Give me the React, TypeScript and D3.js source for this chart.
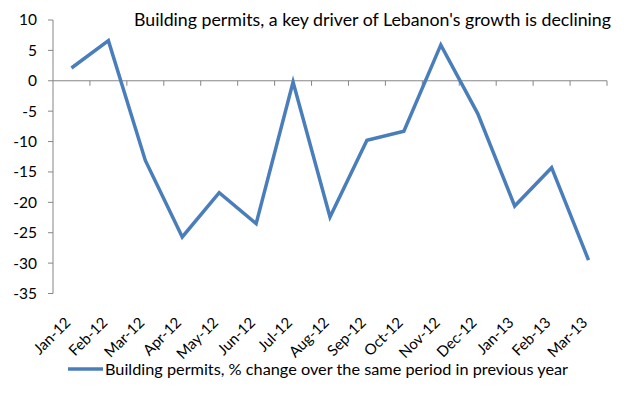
import React from 'react';
import * as d3 from 'd3';

const months = ['Jan-12', 'Feb-12', 'Mar-12', 'Apr-12', 'May-12', 'Jun-12', 'Jul-12', 'Aug-12', 'Sep-12', 'Oct-12', 'Nov-12', 'Dec-12', 'Jan-13', 'Feb-13', 'Mar-13'];
const permitsChange = [2.1, 6.6, -13.1, -25.7, -18.4, -23.5, -0.2, -22.4, -9.8, -8.3, 5.9, -5.4, -20.6, -14.3, -29.5];
const yTicks = [10, 5, 0, -5, -10, -15, -20, -25, -30, -35];

const title = "Building permits, a key driver of Lebanon's growth is declining";
const legendLabel = 'Building permits, % change over the same period in previous year';

const font = 'Lato, "Open Sans", sans-serif';
const lineColor = '#4a7ebb';
const axisColor = '#868686';

const App = () => {
  const width = 626;
  const height = 409;
  const margin = { left: 53, right: 19, top: 20 };
  const plotBottom = 293.5;

  const x = d3.scaleBand<string>()
    .domain(months)
    .range([margin.left, width - margin.right])
    .padding(0);

  const y = d3.scaleLinear()
    .domain([-35, 10])
    .range([plotBottom, margin.top]);

  const cx = (m: string) => (x(m) ?? 0) + x.bandwidth() / 2;

  const line = d3.line<number>()
    .x((_, i) => cx(months[i]))
    .y(d => y(d));

  const y0 = y(0);
  const xTickPos = months.map(m => (x(m) ?? 0) + x.bandwidth());

  return (
    <svg width={width} height={height} style={{ position: 'absolute', left: 0, top: 0, background: '#fff' }}>
      {/* y axis */}
      <line x1={margin.left} x2={margin.left} y1={y(10)} y2={y(-35)} stroke={axisColor} strokeWidth={1} />
      {yTicks.map(t => (
        <g key={t}>
          <line x1={margin.left - 5} x2={margin.left} y1={y(t)} y2={y(t)} stroke={axisColor} />
          <text x={37} y={y(t)} dy="0.35em" textAnchor="end" fontFamily={font} fontSize={15.5} fill="#000">{t}</text>
        </g>
      ))}

      {/* x axis on zero line */}
      <line x1={margin.left} x2={width - margin.right} y1={y0} y2={y0} stroke={axisColor} strokeWidth={1} />
      {xTickPos.map((p, i) => (
        <line key={i} x1={p} x2={p} y1={y0} y2={y0 + 5} stroke={axisColor} />
      ))}

      {/* rotated category labels */}
      {months.map(m => (
        <text key={m} transform={`translate(${cx(m)},${plotBottom + 30}) rotate(-45)`} textAnchor="end"
          fontFamily={font} fontSize={15} fill="#000">{m}</text>
      ))}

      <path d={line(permitsChange) ?? ''} fill="none" stroke={lineColor} strokeWidth={3.5} strokeLinejoin="miter" />

      <text x={611} y={26} textAnchor="end" fontFamily={font} fontSize={16.5} fill="#000"
        textLength={477} lengthAdjust="spacingAndGlyphs">{title}</text>

      {/* legend */}
      <line x1={68} x2={103} y1={369} y2={369} stroke={lineColor} strokeWidth={3.5} />
      <text x={105} y={375} fontFamily={font} fontSize={16} fill="#000"
        textLength={463} lengthAdjust="spacingAndGlyphs">{legendLabel}</text>
    </svg>
  );
};

export default App;
